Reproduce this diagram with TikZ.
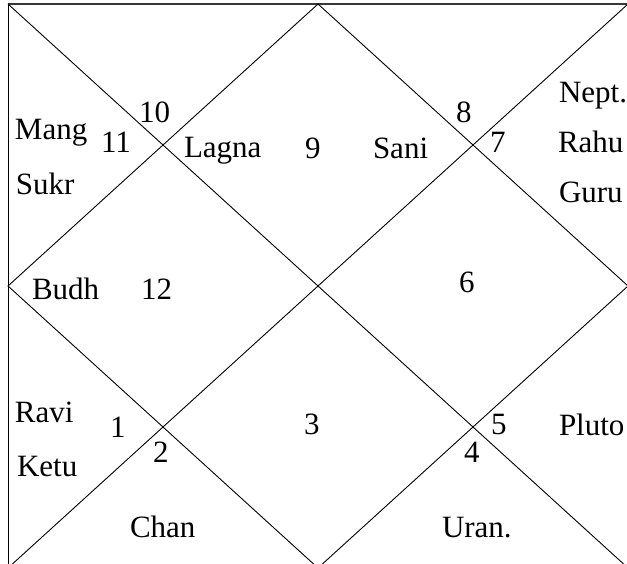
\documentclass[tikz,border=0pt]{standalone}
\usepackage{fontspec}
\setmainfont{Liberation Serif}
\definecolor{topgray}{RGB}{55,55,55}
\begin{document}
\begin{tikzpicture}[x=1pt,y=-1pt,
  chartline/.style={line width=0.9pt,black},
  lbl/.style={anchor=base west,inner sep=0pt,outer sep=0pt,font=\fontsize{31}{36}\selectfont}]
\useasboundingbox (0,0) rectangle (627,564);
% corners and midpoints
\coordinate (tl) at (8,4);
\coordinate (tr) at (628,4);
\coordinate (bl) at (8,568);
\coordinate (br) at (628,568);
\coordinate (tm) at (318,4);
\coordinate (bm) at (318,568);
\coordinate (lm) at (8,286);
\coordinate (rm) at (628,286);
% frame
\draw[chartline] (tl) -- (bl) -- (br) -- (tr);
\draw[line width=1.3pt,topgray] (tl) -- (tr);
% diagonals
\draw[chartline] (tl) -- (br);
\draw[chartline] (tr) -- (bl);
% diamond
\draw[chartline] (tm) -- (rm) -- (bm) -- (lm) -- cycle;
% labels
\node[lbl] (mang) at (15,140) {Mang};
\node[lbl] (sukr) at (16,195) {Sukr};
\node[lbl] (h11) at (101,153) {11};
\node[lbl] (h10) at (139,123) {10};
\node[lbl] (lagna) at (184,158) {Lagna};
\node[lbl] (h9) at (305,159) {9};
\node[lbl] (sani) at (373,159) {Sani};
\node[lbl] (h8) at (456,123) {8};
\node[lbl] (h7) at (490,153) {7};
\node[lbl] (nept) at (559,103) {Nept.};
\node[lbl] (rahu) at (558,153) {Rahu};
\node[lbl] (guru) at (559,203) {Guru};
\node[lbl] (budh) at (32,300) {Budh};
\node[lbl] (h12) at (141,300) {12};
\node[lbl] (h6) at (459,293) {6};
\node[lbl] (ravi) at (15,422) {Ravi};
\node[lbl] (h1) at (110,437) {1};
\node[lbl] (h2) at (153,462) {2};
\node[lbl] (h3) at (304,434) {3};
\node[lbl] (h5) at (491,434) {5};
\node[lbl] (h4) at (464,462) {4};
\node[lbl] (pluto) at (559,435) {Pluto};
\node[lbl] (ketu) at (17,476) {Ketu};
\node[lbl] (chan) at (130,537) {Chan};
\node[lbl] (uran) at (442,537) {Uran.};
\end{tikzpicture}
\end{document}
